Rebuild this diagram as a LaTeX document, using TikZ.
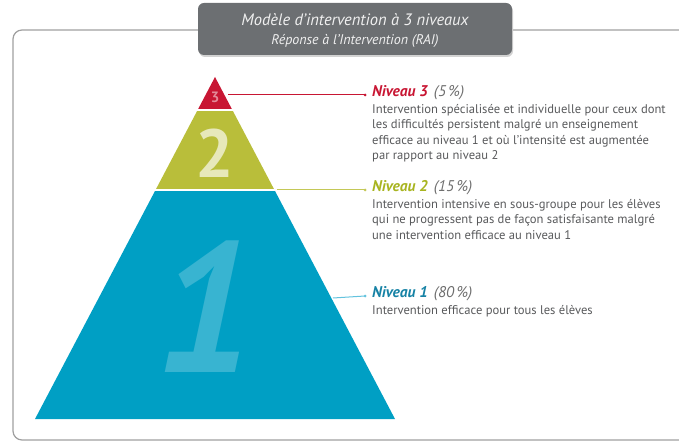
\documentclass[tikz,border=0pt]{standalone}
\usepackage{fontspec}
\setmainfont{PT Sans}
\usetikzlibrary{positioning,calc}
\definecolor{rougeN}{RGB}{200,22,51}
\definecolor{vertN}{RGB}{185,190,58}
\definecolor{bleuN}{RGB}{0,159,196}
\definecolor{vertTxt}{RGB}{168,180,32}
\definecolor{bleuTxt}{RGB}{22,130,165}
\definecolor{bleuLien}{RGB}{100,195,222}
\definecolor{grisTitre}{RGB}{108,111,114}
\definecolor{grisTexte}{RGB}{88,89,91}
\definecolor{grisPct}{RGB}{110,110,110}

\begin{document}
\begin{tikzpicture}[x=1pt,y=-1pt,
  lien/.style={line width=1pt},
  etiquette/.style={font=\bfseries\itshape\fontsize{15.5}{15.5}\selectfont, inner sep=0pt, anchor=base west},
  corps/.style={font=\fontsize{12.6}{15.2}\selectfont, text=grisTexte, align=left, inner sep=0pt, anchor=north west},
  chiffre/.style={inner sep=0pt}]
\useasboundingbox (0,0) rectangle (679,443);
\clip (0,0) rectangle (679,443);
\def\niveau#1#2#3#4#5#6{%
  \coordinate (fin#1) at (365,#4);
  \node[etiquette, text=#2] (niv#1) at (372,#4+1.5) {Niveau #1\hspace{6pt}{\mdseries\color{grisPct}(#5)}};
  \node[corps] (txt#1) at ($(niv#1.base west)+(0,8)$) {#6};
  \draw[lien, #3] (dep#1) -- (fin#1);
  \fill[#3] (fin#1) circle (1.5);}
% cadre et titre
\draw[gray!75, line width=1.2pt, rounded corners=9pt] (13,30) rectangle (720,440);
\fill[gray!35, rounded corners=6pt] (199,5) rectangle (513,57);
\fill[grisTitre, rounded corners=6pt] (198,3) rectangle (512,55);
\node[text=white!94!black, font=\itshape\fontsize{16.5}{16.5}\selectfont] (titre) at (355,20) {Modèle d’intervention à 3 niveaux};
\node[text=white!94!black, font=\itshape\fontsize{14}{14}\selectfont] (soustitre) at (355,41) {Réponse à l’Intervention (RAI)};
% pyramide
\coordinate (sommet) at (215,77);
\coordinate (baseG) at (35,419);
\coordinate (baseD) at (395,419);
\begin{scope}
  \clip (sommet) -- (baseG) -- (baseD) -- cycle;
  \fill[rougeN] (0,70) rectangle (679,109.5);
  \fill[vertN] (0,111.5) rectangle (679,189.5);
  \fill[bleuN] (0,191.5) rectangle (679,420);
\end{scope}
\node[chiffre, text=rougeN!50!white, font=\bfseries\fontsize{15}{15}\selectfont] (c3) at (215,97) {3};
\node[chiffre, text=vertN!35!white, font=\bfseries\fontsize{68}{68}\selectfont] (c2) at (215,153) {2};
\node[chiffre, text=bleuN!78!white, font=\bfseries\itshape\fontsize{185}{185}\selectfont] (c1) at (205,307) {1};
% liens et textes
\coordinate (dep3) at (228,95);
\coordinate (dep2) at (277,190);
\coordinate (dep1) at (333,298);
\niveau{3}{rougeN}{rougeN}{95}{5\,\%}{Intervention spécialisée et individuelle pour ceux dont\\les difficultés persistent malgré un enseignement\\efficace au niveau 1 et où l’intensité est augmentée\\par rapport au niveau 2}
\niveau{2}{vertTxt}{vertN!85!white}{190}{15\,\%}{Intervention intensive en sous-groupe pour les élèves\\qui ne progressent pas de façon satisfaisante malgré\\une intervention efficace au niveau 1}
\niveau{1}{bleuTxt}{bleuLien}{296}{80\,\%}{Intervention efficace pour tous les élèves}
\end{tikzpicture}
\end{document}
